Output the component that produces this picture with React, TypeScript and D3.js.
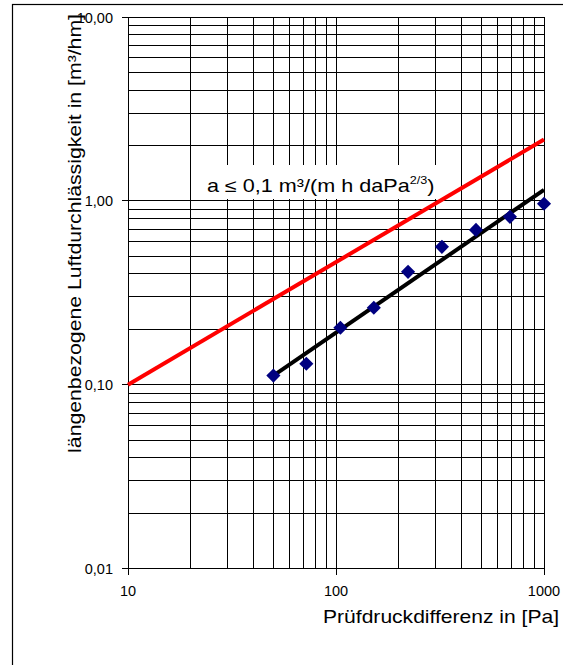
import React from 'react';
import * as d3 from 'd3';

// measured points: pressure difference [Pa] vs. air permeability [m³/hm]
const pressure = [50, 72, 105, 152, 222, 323, 471, 686, 1000];
const permeability = [0.112, 0.13, 0.204, 0.262, 0.411, 0.562, 0.695, 0.818, 0.964];

// fitted line and limit line (endpoints, straight on log-log)
const fitLine: [number, number][] = [[50, 0.112], [1000, 1.148]];
const limitLine: [number, number][] = [[10, 0.1], [1000, 2.154]];

const xTicks = [10, 100, 1000];
const xTickLabels = ['10', '100', '1000'];
const yTicks = [0.01, 0.1, 1, 10];
const yTickLabels = ['0,01', '0,10', '1,00', '10,00'];

const W = 563;
const H = 665;
const FONT = '"Liberation Sans", Arial, sans-serif';

const App = () => {
  const x = d3.scaleLog().domain([10, 1000]).range([128, 544]);
  const y = d3.scaleLog().domain([0.01, 10]).range([568.5, 17]);

  // minor + major grid values per decade
  const xGrid: number[] = [];
  [10, 100].forEach(d => { for (let k = 1; k <= 9; k++) xGrid.push(d * k); });
  xGrid.push(1000);
  const yGrid: number[] = [];
  [0.01, 0.1, 1].forEach(d => { for (let k = 1; k <= 9; k++) yGrid.push(d * k); });
  yGrid.push(10);

  const line = d3.line<[number, number]>()
    .x(d => x(d[0]))
    .y(d => y(d[1]));

  const diamond = d3.symbol(d3.symbolSquare, 100)();

  return (
    <svg width={W} height={H} style={{ position: 'absolute', left: 0, top: 0, background: '#fff' }}
      fontFamily={FONT}>
      {/* outer frame */}
      <rect x={12.5} y={4.5} width={600} height={700} fill="none" stroke="#000" strokeWidth={1.2} />

      {/* grid */}
      <g stroke="#000" strokeWidth={1} shapeRendering="crispEdges">
        {xGrid.map((v, i) => (
          <line key={'gx' + i} x1={x(v)} x2={x(v)} y1={y(10)} y2={y(0.01)} />
        ))}
        {yGrid.map((v, i) => (
          <line key={'gy' + i} x1={x(10)} x2={x(1000)} y1={y(v)} y2={y(v)} />
        ))}
        {yTicks.map((v, i) => (
          <line key={'ty' + i} x1={x(10) - 6} x2={x(10)} y1={y(v)} y2={y(v)} />
        ))}
        {xTicks.map((v, i) => (
          <line key={'tx' + i} x1={x(v)} x2={x(v)} y1={y(0.01)} y2={y(0.01) + 6} />
        ))}
      </g>

      {/* tick labels */}
      <g fontSize={14.5} fill="#000">
        {yTicks.map((v, i) => (
          <text key={'ly' + i} x={x(10) - 15} y={y(v) + 5.5} textAnchor="end">{yTickLabels[i]}</text>
        ))}
        {xTicks.map((v, i) => (
          <text key={'lx' + i} x={x(v)} y={596} textAnchor="middle">{xTickLabels[i]}</text>
        ))}
      </g>

      {/* axis titles (text is a little wider than plain Arial in the original) */}
      <text transform="translate(559,623) scale(1.17,1)" fontSize={18} textAnchor="end">
        Prüfdruckdifferenz in [Pa]
      </text>
      <text transform="translate(81,14) rotate(-90) scale(1.18,1)" fontSize={18} textAnchor="end">
        längenbezogene Luftdurchlässigkeit in [m³/hm]
      </text>

      {/* limit annotation */}
      <rect x={196} y={165} width={244} height={34} fill="#fff" />
      <text transform="translate(207,192) scale(1.2,1)" fontSize={18}>
        a ≤ 0,1 m³/(m h daPa<tspan fontSize={10.5} dy={-8}>2/3</tspan><tspan dy={8}>)</tspan>
      </text>

      {/* lines */}
      <path d={line(limitLine) ?? ''} fill="none" stroke="#ff0000" strokeWidth={4} />
      <path d={line(fitLine) ?? ''} fill="none" stroke="#000" strokeWidth={4} />

      {/* measured points */}
      {pressure.map((p, i) => (
        <path key={'p' + i} d={diamond ?? ''} fill="#000080"
          transform={`translate(${x(p)},${y(permeability[i])}) rotate(45)`} />
      ))}
    </svg>
  );
};

export default App;
